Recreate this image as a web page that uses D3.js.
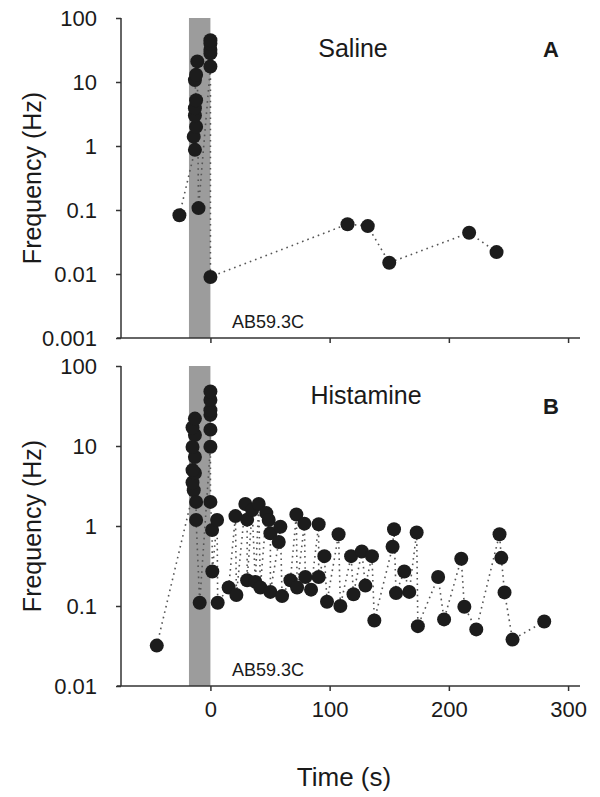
<!DOCTYPE html>
<html>
<head>
<meta charset="utf-8">
<script src="https://cdn.jsdelivr.net/npm/d3@7"></script>
<style>
  html, body { margin: 0; padding: 0; background: #fff; }
  svg { display: block; font-family: "Liberation Sans", Arial, sans-serif; }
</style>
</head>
<body>
<svg id="chart" width="600" height="797"></svg>
<script>
// ---- Data ----
const xTicks = [0, 100, 200, 300];
const yTicksA = [0.001, 0.01, 0.1, 1, 10, 100];
const yTicksB = [0.01, 0.1, 1, 10, 100];
const stimWindow = [-18, 0];

// Panel A: Saline (sequence order)
const salineTime = [-26, -13, -14, -12, -13, -13, -12, -13, -12, -11, -10, 0, 0, 0, 0, 0, 0, 115, 132, 150, 217, 240];
const salineFreq = [0.083, 0.87, 1.4, 2.0, 3.0, 3.9, 5.2, 10.7, 13, 21, 0.107, 17.5, 28, 32, 40, 45, 0.009, 0.06, 0.056, 0.015, 0.044, 0.022];

// Panel B: Histamine (sequence order)
const histTime = [-45, -14, -15, -13, -15, -13, -15, -13, -15, -13, -12, -12, -9,
  0, 0, 0, 0, 0, 0, 0, 1.4, 1.6, 5.6, 6.1, 15.3, 21, 21.8, 29.3, 30.8, 30.8, 35, 37.7,
  40.5, 41.9, 46.9, 48.9, 50.3, 50.3, 57.3, 58.7, 60.1, 67.1, 72.1, 72.7, 78.8, 79.6,
  84.4, 90.8, 90.8, 95.6, 97.8, 107.5, 109, 118, 120, 127, 130, 135.5, 137.5, 152.8,
  154, 155.7, 162.6, 166.8, 173, 174, 191, 196, 210.4, 213, 223, 242.5, 244, 246.7, 253.4, 280];
const histFreq = [0.032, 2.8, 3.5, 4.6, 5.0, 7.3, 9.7, 13.7, 17, 22, 2.0, 1.19, 0.11,
  9.8, 16, 24.5, 28, 37.6, 48, 2.0, 0.89, 0.27, 1.19, 0.11, 0.17, 1.33, 0.137, 1.88, 1.2, 0.21, 1.58, 0.2,
  1.88, 0.17, 1.45, 1.19, 0.81, 0.15, 0.63, 0.98, 0.133, 0.21, 1.39, 0.17, 1.07, 0.23,
  0.16, 1.05, 0.23, 0.42, 0.113, 0.79, 0.10, 0.42, 0.14, 0.48, 0.18, 0.42, 0.066, 0.55,
  0.91, 0.145, 0.27, 0.15, 0.83, 0.056, 0.23, 0.068, 0.39, 0.098, 0.051, 0.79, 0.40, 0.148, 0.038, 0.064];

// ---- Drawing ----
const svg = d3.select("#chart");
const x = d3.scaleLinear().domain([-75, 310]).range([121, 580]);

function drawPanel(opts) {
  const { times, freqs, yDomain, yRange, yTicks, title, letter, titleX, titleY, letterY, showXLabels } = opts;
  const y = d3.scaleLog().domain(yDomain).range(yRange);
  const g = svg.append("g");
  const bottom = yRange[0];

  // stimulus bar
  g.append("rect")
    .attr("x", x(stimWindow[0]))
    .attr("y", y(yDomain[1]))
    .attr("width", x(stimWindow[1]) - x(stimWindow[0]))
    .attr("height", bottom - y(yDomain[1]))
    .attr("fill", "#9c9c9c");

  const pts = times.map((t, i) => ({ t, f: freqs[i] }));

  // dotted connecting line
  g.append("path")
    .datum(pts)
    .attr("fill", "none")
    .attr("stroke", "#555")
    .attr("stroke-width", 1.6)
    .attr("stroke-dasharray", "1.6,4")
    .attr("d", d3.line().x(d => x(d.t)).y(d => y(d.f)));

  // points
  g.selectAll("circle.pt")
    .data(pts)
    .join("circle")
    .attr("class", "pt")
    .attr("cx", d => x(d.t))
    .attr("cy", d => y(d.f))
    .attr("r", 7)
    .attr("fill", "#1c1c1c");

  // y axis
  const ya = g.append("g")
    .attr("transform", `translate(121,0)`)
    .call(d3.axisLeft(y).tickValues(yTicks).tickFormat(d => String(d)).tickSize(5).tickPadding(19));
  ya.select(".domain").attr("stroke", "#333").attr("stroke-width", 1.5).attr("d", `M0,${y(yDomain[1])}V${bottom}`);
  ya.selectAll(".tick line").attr("stroke", "#333").attr("stroke-width", 1.5);
  ya.selectAll(".tick text").attr("font-size", 22).attr("fill", "#1a1a1a").attr("font-family", "Liberation Sans, Arial, sans-serif");

  // x axis
  const xa = g.append("g")
    .attr("transform", `translate(0,${bottom})`)
    .call(d3.axisBottom(x).tickValues(xTicks).tickSize(5).tickPadding(10)
      .tickFormat(showXLabels ? d3.format("d") : () => ""));
  xa.select(".domain").attr("stroke", "#333").attr("stroke-width", 1.5).attr("d", `M117,0H580`);
  xa.selectAll(".tick line").attr("stroke", "#333").attr("stroke-width", 1.5);
  xa.selectAll(".tick text").attr("font-size", 22).attr("fill", "#1a1a1a").attr("dy", "0.71em").attr("font-family", "Liberation Sans, Arial, sans-serif");

  // y label
  const midY = (yRange[0] + yRange[1]) / 2;
  g.append("text")
    .attr("transform", `translate(41,${midY}) rotate(-90)`)
    .attr("text-anchor", "middle")
    .attr("font-size", 25)
    .attr("fill", "#1a1a1a")
    .text("Frequency (Hz)");

  // title
  g.append("text")
    .attr("x", titleX).attr("y", titleY)
    .attr("text-anchor", "middle")
    .attr("font-size", 25)
    .attr("fill", "#1a1a1a")
    .text(title);

  g.append("text")
    .attr("x", 551).attr("y", letterY)
    .attr("text-anchor", "middle")
    .attr("font-size", 22)
    .attr("font-weight", "bold")
    .attr("fill", "#1a1a1a")
    .text(letter);

  g.append("text")
    .attr("x", 232).attr("y", bottom - 10)
    .attr("font-size", 18)
    .attr("fill", "#1a1a1a")
    .text("AB59.3C");
}

drawPanel({
  times: salineTime, freqs: salineFreq,
  yDomain: [0.001, 100], yRange: [338, 18], yTicks: yTicksA,
  title: "Saline", letter: "A", titleX: 353, titleY: 57, letterY: 57, showXLabels: false
});

drawPanel({
  times: histTime, freqs: histFreq,
  yDomain: [0.01, 100], yRange: [686, 366], yTicks: yTicksB,
  title: "Histamine", letter: "B", titleX: 366, titleY: 404, letterY: 414, showXLabels: true
});

svg.append("text")
  .attr("x", 344).attr("y", 786)
  .attr("text-anchor", "middle")
  .attr("font-size", 26)
  .attr("fill", "#1a1a1a")
  .text("Time (s)");
</script>
</body>
</html>
